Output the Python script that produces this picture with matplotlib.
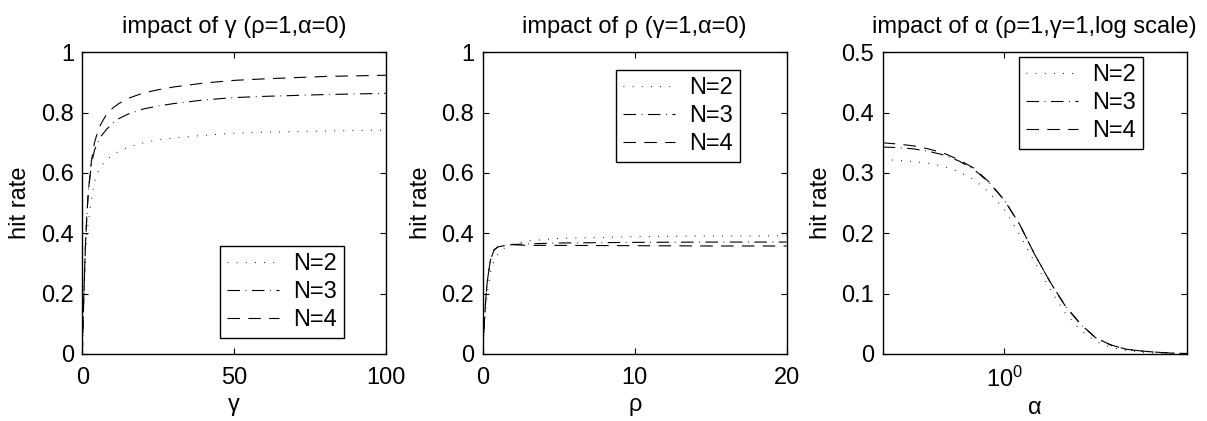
import matplotlib
matplotlib.use("Agg")
import matplotlib.pyplot as plt
import numpy as np

plt.rcParams['font.family'] = ['Liberation Sans', 'DejaVu Sans']
plt.rcParams['lines.scale_dashes'] = False
plt.rcParams['mathtext.fontset'] = 'custom'
plt.rcParams['mathtext.rm'] = 'Liberation Sans'
plt.rcParams['mathtext.it'] = 'Liberation Sans:italic'

# ---------- data ----------
labels = ["N=2", "N=3", "N=4"]

gamma = [0, 0.25, 0.5, 1, 1.5, 2, 3, 4, 5, 6, 8, 10, 12, 15, 20, 25, 30, 40, 50, 60, 70, 80, 90, 100]
gamma_n2 = [0, 0.10, 0.18, 0.33, 0.40, 0.44, 0.51, 0.57, 0.60, 0.62, 0.645, 0.66, 0.672, 0.685, 0.70,
            0.71, 0.716, 0.725, 0.732, 0.735, 0.737, 0.739, 0.741, 0.742]
gamma_n3 = [0, 0.10, 0.19, 0.35, 0.46, 0.54, 0.63, 0.675, 0.70, 0.72, 0.745, 0.765, 0.78, 0.795, 0.812,
            0.822, 0.83, 0.842, 0.85, 0.854, 0.857, 0.86, 0.862, 0.864]
gamma_n4 = [0, 0.10, 0.19, 0.35, 0.46, 0.54, 0.64, 0.70, 0.735, 0.76, 0.795, 0.815, 0.83, 0.847, 0.865,
            0.876, 0.885, 0.898, 0.907, 0.912, 0.916, 0.92, 0.922, 0.924]

rho = [0, 0.1, 0.2, 0.3, 0.5, 0.75, 1, 1.5, 2, 3, 5, 10, 15, 20]
rho_n2 = [0, 0.08, 0.15, 0.20, 0.27, 0.31, 0.33, 0.355, 0.365, 0.375, 0.383, 0.389, 0.391, 0.392]
rho_n3 = [0, 0.10, 0.18, 0.24, 0.31, 0.345, 0.355, 0.36, 0.363, 0.365, 0.368, 0.370, 0.371, 0.371]
rho_n4 = [0, 0.10, 0.18, 0.24, 0.31, 0.345, 0.355, 0.36, 0.362, 0.360, 0.360, 0.359, 0.358, 0.358]

alpha = [0.25, 0.297, 0.354, 0.42, 0.5, 0.595, 0.707, 0.841, 1.0, 1.19, 1.414, 1.682, 2.0,
         2.378, 2.828, 3.364, 4.0, 4.757, 5.657, 6.727, 8.0]
alpha_n2 = [0.322, 0.321, 0.319, 0.316, 0.311, 0.302, 0.289, 0.268, 0.240, 0.198, 0.152, 0.108, 0.068,
            0.040, 0.021, 0.011, 0.006, 0.003, 0.0015, 0.0008, 0.0004]
alpha_n3 = [0.343, 0.342, 0.340, 0.336, 0.330, 0.320, 0.306, 0.284, 0.255, 0.215, 0.165, 0.120, 0.080,
            0.050, 0.027, 0.015, 0.008, 0.005, 0.003, 0.0015, 0.0008]
alpha_n4 = [0.350, 0.348, 0.345, 0.340, 0.333, 0.322, 0.308, 0.285, 0.255, 0.215, 0.165, 0.120, 0.080,
            0.050, 0.027, 0.015, 0.008, 0.005, 0.003, 0.0015, 0.0008]

# ---------- styles ----------
dash_styles = [(0, (0.6, 6.0)), (0, (9.0, 4.0, 0.6, 4.0)), (0, (9.0, 6.0))]
FS = 17

fig = plt.figure(figsize=(12.07, 4.21), dpi=100)
W, H = 1207, 421
bottom_px, top_px = 354, 52.3
panels = [
    dict(left=82.3, x=gamma, ys=[gamma_n2, gamma_n3, gamma_n4], xlim=(0, 100), ylim=(0, 1),
         xticks=[0, 50, 100], yticks=[0, 0.2, 0.4, 0.6, 0.8, 1],
         yticklabels=["0", "0.2", "0.4", "0.6", "0.8", "1"], xlabel="γ",
         title="impact of γ (ρ=1,α=0)", leg=(0.454, 0.358), log=False),
    dict(left=482.7, x=rho, ys=[rho_n2, rho_n3, rho_n4], xlim=(0, 20), ylim=(0, 1),
         xticks=[0, 10, 20], yticks=[0, 0.2, 0.4, 0.6, 0.8, 1],
         yticklabels=["0", "0.2", "0.4", "0.6", "0.8", "1"], xlabel="ρ",
         title="impact of ρ (γ=1,α=0)", leg=(0.4385, 0.941), log=False),
    dict(left=882.7, x=alpha, ys=[alpha_n2, alpha_n3, alpha_n4], xlim=(0.25, 8), ylim=(0, 0.5),
         xticks=[1], yticks=[0, 0.1, 0.2, 0.3, 0.4, 0.5],
         yticklabels=["0", "0.1", "0.2", "0.3", "0.4", "0.5"], xlabel="α",
         title="impact of α (ρ=1,γ=1,log scale)", leg=(0.448, 0.984), log=True),
]

for p in panels:
    ax = fig.add_axes([p['left'] / W, 1 - bottom_px / H, 304 / W, (bottom_px - top_px) / H])
    for y, ls, lab in zip(p['ys'], dash_styles, labels):
        ax.plot(p['x'], y, color='black', lw=0.8, linestyle=ls, label=lab)
    if p['log']:
        ax.set_xscale('log')
        ax.xaxis.set_minor_locator(matplotlib.ticker.NullLocator())
    ax.set_xlim(*p['xlim'])
    ax.set_ylim(*p['ylim'])
    ax.set_xticks(p['xticks'])
    if p['log']:
        ax.set_xticklabels([r"$\mathregular{10^{0}}$"])
    ax.set_yticks(p['yticks'])
    ax.set_yticklabels(p['yticklabels'])
    ax.tick_params(direction='in', top=True, right=True, length=4, width=0.8,
                   labelsize=FS)
    ax.tick_params(axis='x', pad=9)
    ax.tick_params(axis='y', pad=6)
    for s in ax.spines.values():
        s.set_linewidth(1.0)
    ax.set_xlabel(p['xlabel'], fontsize=FS, labelpad=4)
    ax.set_ylabel("hit rate", fontsize=FS, labelpad=7)
    ax.set_title(p['title'], fontsize=FS, pad=14)
    leg = ax.legend(loc='upper left', bbox_to_anchor=p['leg'], borderaxespad=0,
                    fancybox=False, edgecolor='black', framealpha=1, fontsize=FS,
                    handlelength=2.2, handletextpad=0.6, labelspacing=0.25,
                    borderpad=0.3)
    leg.get_frame().set_linewidth(1.0)

fig.savefig("out.png", dpi=100)
